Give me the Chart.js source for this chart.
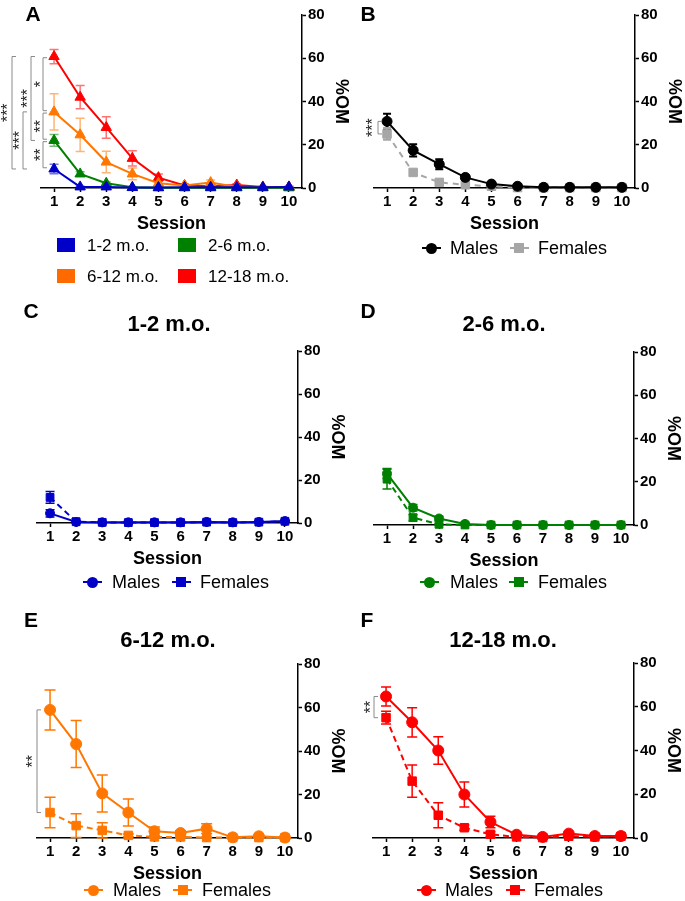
<!DOCTYPE html>
<html><head><meta charset="utf-8">
<script src="https://cdn.jsdelivr.net/npm/chart.js@4.4.1/dist/chart.umd.min.js"></script>
<style>
html,body{margin:0;padding:0;background:#fff;}
#wrap{position:relative;width:685px;height:901px;overflow:hidden;font-family:"Liberation Sans",Arial,Helvetica,sans-serif;}
canvas{position:absolute;left:0;top:0;}
.t{position:absolute;white-space:nowrap;line-height:1;transform:translate(-50%,-50%);color:#000;}
.lt{position:absolute;white-space:nowrap;line-height:1;transform:translateY(-50%);color:#000;}
.box{position:absolute;}
</style></head><body><div id="wrap"></div>
<script>
// ---------- data ----------
const sessions = ['1','2','3','4','5','6','7','8','9','10'];
const yTicks = [0, 20, 40, 60, 80];

// Panel A: all animals by age group
const age1_2    = [8.8, 0.5, 0.5, 0.2, 0.2, 0.3, 0.3, 0.3, 0.3, 0.5];
const age1_2Err = [2.2, 0.3, 0.3, 0.1, 0.1, 0.1, 0.1, 0.1, 0.1, 0.2];
const age2_6    = [22.0, 6.5, 2.2, 0.3, 0.1, 0.1, 0.1, 0.1, 0.1, 0.1];
const age2_6Err = [2.7, 1.0, 0.6, 0.2, 0, 0, 0, 0, 0, 0];
const age6_12    = [35.2, 24.6, 12.0, 6.5, 2.2, 1.2, 2.5, 0.5, 0.3, 0.3];
const age6_12Err = [8.4, 7.7, 5.0, 2.7, 1.0, 0.5, 1.2, 0.3, 0.2, 0.2];
const age12_18    = [60.8, 42.0, 28.0, 13.7, 4.8, 1.2, 0.8, 1.4, 0.5, 0.5];
const age12_18Err = [3.3, 5.4, 5.0, 3.5, 1.7, 0.6, 0.5, 0.6, 0.3, 0.3];

// Panel B: all ages by sex
const malesAll      = [30.8, 17.4, 11.0, 4.9, 1.8, 0.8, 0.3, 0.3, 0.3, 0.3];
const malesAllErr   = [3.5, 2.8, 2.3, 1.0, 0.5, 0.3, 0.2, 0.2, 0.2, 0.2];
const femalesAll    = [25.0, 7.2, 2.6, 1.5, 0.8, 0.2, 0.2, 0.2, 0.2, 0.2];
const femalesAllErr = [2.7, 1.0, 0.6, 0.4, 0.3, 0.1, 0.1, 0.1, 0.1, 0.1];

// Panel C: 1-2 m.o.
const males1_2      = [4.5, 0.5, 0.3, 0.3, 0.3, 0.3, 0.5, 0.3, 0.5, 0.9];
const males1_2Err   = [1.7, 0.3, 0.2, 0.2, 0.2, 0.2, 0.3, 0.2, 0.3, 0.4];
const females1_2    = [11.9, 0.6, 0.3, 0.2, 0.2, 0.2, 0.4, 0.2, 0.4, 0.8];
const females1_2Err = [2.7, 0.3, 0.2, 0.1, 0.1, 0.1, 0.2, 0.1, 0.2, 0.3];

// Panel D: 2-6 m.o.
const males2_6      = [23.8, 8.0, 3.0, 0.5, 0, 0, 0, 0, 0, 0];
const males2_6Err   = [2.3, 1.5, 1.0, 0.3, 0, 0, 0, 0, 0, 0];
const females2_6    = [21.2, 3.4, 0.3, 0, 0, 0, 0, 0, 0, 0];
const females2_6Err = [4.6, 1.5, 0.3, 0, 0, 0, 0, 0, 0, 0];

// Panel E: 6-12 m.o.
const males6_12      = [58.9, 43.2, 20.5, 11.7, 3.1, 2.3, 4.3, 0.3, 0.8, 0.2];
const males6_12Err   = [9.2, 10.8, 8.5, 6.2, 2.0, 1.0, 2.2, 0.2, 0.4, 0.1];
const females6_12    = [11.7, 5.7, 3.5, 1.2, 0.5, 0.5, 0.2, 0.2, 0.2, 0.2];
const females6_12Err = [7.0, 5.5, 3.5, 0.6, 0.3, 0.3, 0.1, 0.1, 0.1, 0.1];

// Panel F: 12-18 m.o.
const males12_18      = [64.7, 52.9, 40.0, 19.9, 7.3, 1.5, 0.5, 2.0, 0.9, 0.9];
const males12_18Err   = [4.3, 6.7, 6.3, 5.7, 2.6, 0.6, 0.3, 0.6, 0.4, 0.4];
const females12_18    = [55.0, 26.0, 10.4, 4.7, 1.7, 0.5, 0.2, 0.8, 0.5, 0.8];
const females12_18Err = [2.9, 7.4, 5.7, 1.2, 1.2, 0.3, 0.1, 0.3, 0.2, 0.3];

// ---------- styles ----------
const FAM = '"Liberation Sans", Arial, Helvetica, sans-serif';
const BLUE = '#0000C8', GREEN = '#008000', ORANGE = '#FF7700', RED = '#FF0000', BLACK = '#000000', GREY = '#A6A6A6';
function alpha(hex, a){const n=parseInt(hex.slice(1),16);return `rgba(${n>>16&255},${n>>8&255},${n&255},${a})`;}

const wrap = document.getElementById('wrap');

// ---------- plugins ----------
const errorBarPlugin = {
  id: 'errorBars',
  beforeDatasetsDraw(chart) {
    const {ctx, scales: {x, y}} = chart;
    chart.data.datasets.forEach((ds) => {
      if (!ds.errorBars) return;
      ctx.save();
      ctx.strokeStyle = ds.errorColor || ds.borderColor;
      ctx.lineWidth = ds.errorWidth || 1.5;
      ctx.setLineDash([]);
      ds.data.forEach((v, i) => {
        const e = ds.errorBars[i];
        if (!e) return;
        const px = x.getPixelForValue(i);
        const yt = y.getPixelForValue(v + e);
        const yb = y.getPixelForValue(Math.max(0, v - e));
        const cw = ds.capHalf || 4.5;
        ctx.beginPath();
        ctx.moveTo(px, yt); ctx.lineTo(px, yb);
        ctx.moveTo(px - cw, yt); ctx.lineTo(px + cw, yt);
        ctx.moveTo(px - cw, yb); ctx.lineTo(px + cw, yb);
        ctx.stroke();
      });
      ctx.restore();
    });
  }
};

const bracketPlugin = {
  id: 'sigBrackets',
  afterDraw(chart, args, opts) {
    const items = opts.items || [];
    const {ctx, chartArea, scales: {y}} = chart;
    const ds = chart.data.datasets;
    items.forEach(b => {
      const ya = y.getPixelForValue(ds[b.a].data[0]);
      const yb = y.getPixelForValue(ds[b.b].data[0]);
      const y1 = Math.min(ya, yb) + (b.inset || 0), y2 = Math.max(ya, yb) - (b.inset || 0);
      const x0 = chartArea.left + b.dx;
      ctx.save();
      ctx.strokeStyle = '#8a8a8a';
      ctx.lineWidth = 1;
      ctx.beginPath();
      ctx.moveTo(x0 + 4, y1); ctx.lineTo(x0, y1); ctx.lineTo(x0, y2); ctx.lineTo(x0 + 4, y2);
      ctx.stroke();
      ctx.translate(x0 + b.sdx, (y1 + y2) / 2);
      ctx.rotate(-Math.PI / 2);
      ctx.textAlign = 'center';
      ctx.textBaseline = 'middle';
      ctx.font = '16px ' + FAM;
      ctx.fillStyle = '#222';
      ctx.fillText(b.label, 0, 0);
      ctx.restore();
    });
  }
};

// ---------- panel factory ----------
function panel(area, datasets, brackets) {
  const cv = document.createElement('canvas');
  cv.width = 685; cv.height = 901;
  cv.style.width = '685px'; cv.style.height = '901px';
  wrap.appendChild(cv);
  const W = 50, H = 47;
  datasets.forEach(d => { d.clip = false; d.tension = 0; });
  return new Chart(cv, {
    type: 'line',
    data: {labels: sessions, datasets},
    options: {
      responsive: false, animation: false, devicePixelRatio: 1,
      events: [],
      layout: {padding: {left: area.l, top: area.t, right: 685 - area.r - W, bottom: 901 - area.b - H}},
      plugins: {legend: {display: false}, tooltip: {enabled: false}, sigBrackets: {items: brackets || []}},
      scales: {
        x: {
          type: 'category', offset: true,
          grid: {display: true, drawOnChartArea: false, drawTicks: true, tickLength: 4, tickColor: '#000', tickWidth: 1.5},
          border: {display: true, color: '#000', width: 1.5},
          ticks: {color: '#000', font: {family: FAM, size: 15, weight: 'bold'}, padding: 1, maxRotation: 0, autoSkip: false},
          title: {display: true, text: 'Session', color: '#000', font: {family: FAM, size: 18, weight: 'bold'}, padding: 0},
          afterFit(s) { s.height = H; }
        },
        y: {
          position: 'right', min: 0, max: 80,
          afterBuildTicks(s) { s.ticks = yTicks.map(v => ({value: v})); },
          grid: {display: true, drawOnChartArea: false, drawTicks: true, tickLength: 4, tickColor: '#000', tickWidth: 1.5},
          border: {display: true, color: '#000', width: 1.5},
          ticks: {color: '#000', font: {family: FAM, size: 15, weight: 'bold'}, padding: 2},
          title: {display: true, text: '%OM', color: '#000', font: {family: FAM, size: 18, weight: 'bold'}, padding: 0},
          afterFit(s) { s.width = W; }
        }
      }
    },
    plugins: [errorBarPlugin, bracketPlugin]
  });
}

function ser(label, data, err, color, style, radius, opts) {
  return Object.assign({
    label, data, errorBars: err, borderColor: color, backgroundColor: color,
    pointBackgroundColor: color, pointBorderColor: color, pointStyle: style,
    pointRadius: radius, pointBorderWidth: 1, borderWidth: 2, fill: false
  }, opts || {});
}

// ---------- Panel A ----------
const aOpts = c => ({errorColor: alpha(c, 0.55), errorWidth: 1.5, capHalf: 4.5});
panel({l: 41, r: 302, t: 15, b: 188}, [
  ser('1-2 m.o.', age1_2, age1_2Err, BLUE, 'triangle', 6, aOpts(BLUE)),
  ser('2-6 m.o.', age2_6, age2_6Err, GREEN, 'triangle', 6, aOpts(GREEN)),
  ser('6-12 m.o.', age6_12, age6_12Err, ORANGE, 'triangle', 6, aOpts(ORANGE)),
  ser('12-18 m.o.', age12_18, age12_18Err, RED, 'triangle', 6, aOpts(RED))
], [
  {a: 3, b: 0, dx: -29, sdx: -3.3, label: '***', inset: 0},
  {a: 2, b: 0, dx: -18, sdx: -2.3, label: '***', inset: 0},
  {a: 3, b: 1, dx: -10, sdx: -2.3, label: '***', inset: 0},
  {a: 3, b: 2, dx: 2, sdx: -1.5, label: '*', inset: 1.2},
  {a: 2, b: 1, dx: 2, sdx: -1.5, label: '**', inset: 1.2},
  {a: 1, b: 0, dx: 2, sdx: -1.5, label: '**', inset: 1.2}
]);

// ---------- Panel B ----------
panel({l: 374, r: 635, t: 15, b: 188}, [
  ser('Males', malesAll, malesAllErr, BLACK, 'circle', 5, {errorWidth: 2, capHalf: 4}),
  ser('Females', femalesAll, femalesAllErr, GREY, 'rect', 6, {borderDash: [6, 5], errorWidth: 2, capHalf: 4})
], [
  {a: 0, b: 1, dx: 4, sdx: -4, label: '***', inset: 0}
]);

// ---------- Panel C ----------
panel({l: 37, r: 298, t: 351, b: 523}, [
  ser('Males', males1_2, males1_2Err, BLUE, 'circle', 4.5, {capHalf: 4.5}),
  ser('Females', females1_2, females1_2Err, BLUE, 'rect', 5.5, {borderDash: [6, 4], capHalf: 4.5})
]);

// ---------- Panel D ----------
panel({l: 374, r: 634, t: 352, b: 525}, [
  ser('Males', males2_6, males2_6Err, GREEN, 'circle', 4.5, {capHalf: 4.5}),
  ser('Females', females2_6, females2_6Err, GREEN, 'rect', 5.5, {borderDash: [6, 4], capHalf: 4.5})
]);

// ---------- Panel E ----------
panel({l: 37, r: 298, t: 664, b: 838}, [
  ser('Males', males6_12, males6_12Err, ORANGE, 'circle', 5.5, {capHalf: 5.5}),
  ser('Females', females6_12, females6_12Err, ORANGE, 'rect', 6, {borderDash: [6, 4], capHalf: 5.5})
], [
  {a: 0, b: 1, dx: 0, sdx: -3.3, label: '**', inset: 0}
]);

// ---------- Panel F ----------
panel({l: 373, r: 634, t: 663, b: 838}, [
  ser('Males', males12_18, males12_18Err, RED, 'circle', 5.5, {capHalf: 5}),
  ser('Females', females12_18, females12_18Err, RED, 'rect', 6, {borderDash: [6, 4], capHalf: 5})
], [
  {a: 0, b: 1, dx: 1, sdx: -2.3, label: '**', inset: 0}
]);

// ---------- text overlays ----------
function txt(s, x, y, size, bold, cls) {
  const d = document.createElement('div');
  d.className = cls || 't';
  d.textContent = s;
  d.style.left = x + 'px'; d.style.top = y + 'px';
  d.style.fontSize = size + 'px';
  d.style.fontWeight = bold ? 'bold' : 'normal';
  wrap.appendChild(d);
}
function box(x, y, w, h, color, radius) {
  const d = document.createElement('div');
  d.className = 'box';
  d.style.left = x + 'px'; d.style.top = y + 'px';
  d.style.width = w + 'px'; d.style.height = h + 'px';
  d.style.background = color;
  if (radius) d.style.borderRadius = radius;
  wrap.appendChild(d);
}
function lineIcon(cx, cy, color, marker) {
  box(cx - 9.5, cy - 1, 19, 2, color);
  if (marker === 'circle') box(cx - 5.5, cy - 5.5, 11, 11, color, '50%');
  else box(cx - 5, cy - 5, 10, 10, color);
}

// panel letters
[['A', 33, 13], ['B', 368, 13], ['C', 31, 310], ['D', 368, 310], ['E', 31, 619], ['F', 367, 619]]
  .forEach(p => txt(p[0], p[1], p[2], 21, true));
// panel titles
[['1-2 m.o.', 169, 324], ['2-6 m.o.', 504, 324], ['6-12 m.o.', 168, 640], ['12-18 m.o.', 503, 640]]
  .forEach(p => txt(p[0], p[1], p[2], 22, true));

// legend A
box(57, 238, 18, 14, BLUE); txt('1-2 m.o.', 87, 245, 17, false, 'lt');
box(178, 238, 18, 14, GREEN); txt('2-6 m.o.', 208, 245, 17, false, 'lt');
box(57, 269, 18, 14, '#FF6A00'); txt('6-12 m.o.', 87, 276, 17, false, 'lt');
box(178, 269, 18, 14, RED); txt('12-18 m.o.', 208, 276, 17, false, 'lt');

// legends B-F
function sexLegend(mx, fx, cy, mt, ft, mc, fc) {
  lineIcon(mx, cy, mc, 'circle'); txt('Males', mt, cy, 18, false, 'lt');
  lineIcon(fx, cy, fc, 'rect'); txt('Females', ft, cy, 18, false, 'lt');
}
sexLegend(431, 519, 248, 450, 538, BLACK, GREY);
sexLegend(92.5, 181, 582, 112, 200, BLUE, BLUE);
sexLegend(429, 518.5, 582, 450, 538, GREEN, GREEN);
sexLegend(93, 182.5, 890, 113, 202, ORANGE, ORANGE);
sexLegend(426.5, 515, 890, 445, 534, RED, RED);
</script></body></html>
